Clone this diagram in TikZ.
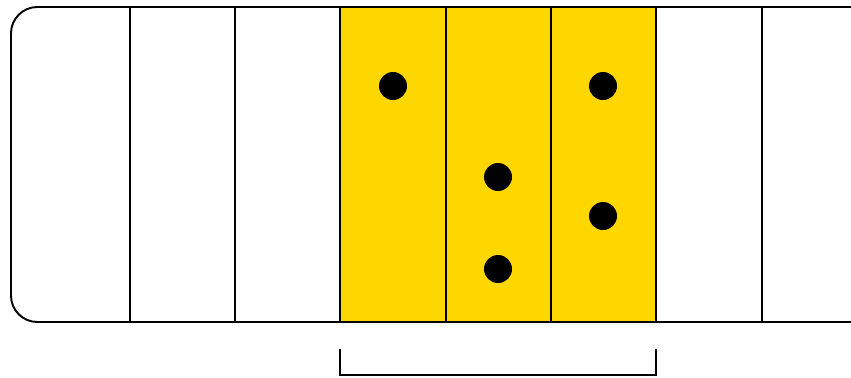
\documentclass[tikz,border=0pt]{standalone}
\usepackage{tikz}
\usetikzlibrary{positioning}
\definecolor{cellgold}{HTML}{FFD700}
\tikzset{
  cellline/.style={line width=1.1pt},
  marble/.style={circle, fill=black, inner sep=0pt, minimum size=5.6mm},
}
\begin{document}
\begin{tikzpicture}[x=0.2mm, y=-0.2mm]
      \useasboundingbox (0,0) rectangle (851,377);
      % highlighted cells
      \fill[cellgold] (340,7) rectangle (656,322);
      % frame, running past the right edge
      \begin{scope}
        \clip (0,0) rectangle (851,377);
        \draw[cellline, rounded corners=15] (11,7) rectangle (880,322);
      \end{scope}
      \foreach \x in {130,235,340,446,551,656,762}
        \draw[cellline] (\x,7) -- (\x,322);
      % marbles
      \node[marble] (m1) at (393,86) {};
      \node[marble] (m2) at (603,86) {};
      \node[marble] (m3) at (498,177) {};
      \node[marble] (m4) at (603,216) {};
      \node[marble] (m5) at (498,269) {};
      % bracket
      \draw[cellline] (340,349) -- (340,375) -- (656,375) -- (656,349);
    \end{tikzpicture}
\end{document}
